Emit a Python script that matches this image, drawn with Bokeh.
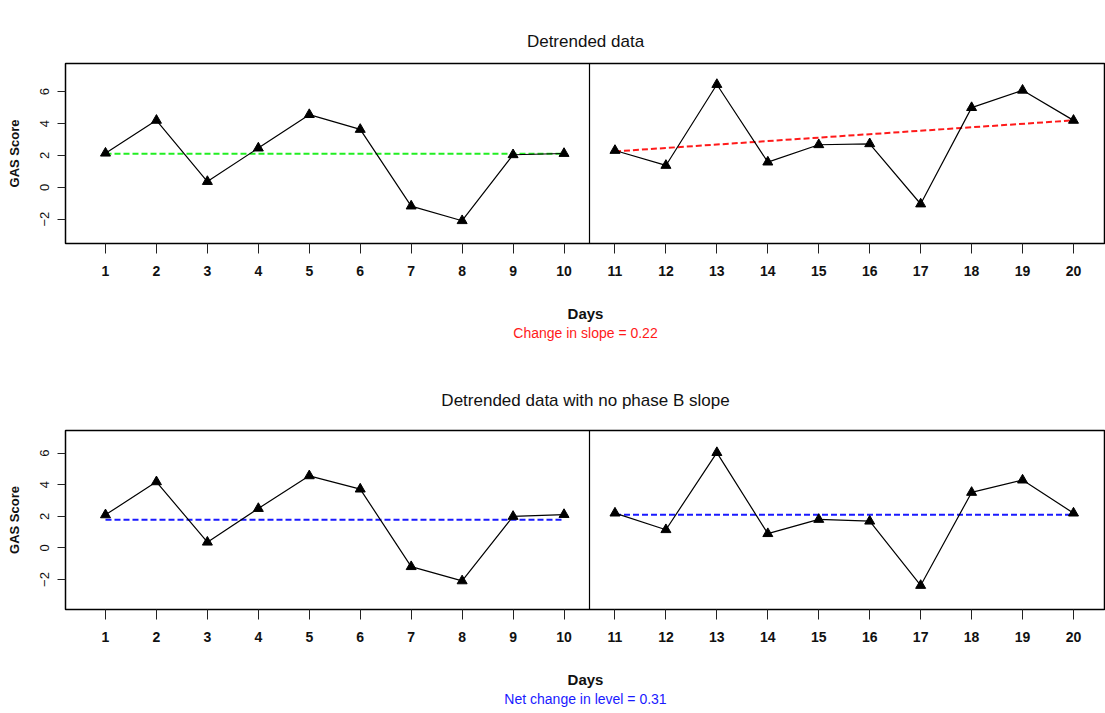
from bokeh.plotting import figure
from bokeh.models import Span, Title, Range1d, FixedTicker
from bokeh.layouts import column
from bokeh.embed import file_html
from bokeh.resources import INLINE

# ---------------- data ----------------
days_a = [1, 2, 3, 4, 5, 6, 7, 8, 9, 10]
days_b = [11, 12, 13, 14, 15, 16, 17, 18, 19, 20]

# Panel 1: detrended data
top_a = [2.14, 4.20, 0.36, 2.46, 4.56, 3.63, -1.18, -2.10, 2.04, 2.12]
top_b = [2.31, 1.37, 6.45, 1.58, 2.67, 2.73, -1.05, 5.00, 6.09, 4.20]
top_a_level = [2.10, 2.10]          # green dashed, phase A
top_b_trend = [2.25, 4.20]          # red dashed, phase B trend

# Panel 2: detrended data with no phase B slope
bot_a = [2.09, 4.18, 0.36, 2.49, 4.56, 3.72, -1.19, -2.09, 1.99, 2.11]
bot_b = [2.20, 1.15, 6.03, 0.90, 1.80, 1.69, -2.38, 3.51, 4.29, 2.20]
bot_a_level = [1.78, 1.78]          # blue dashed, phase A
bot_b_level = [2.09, 2.09]          # blue dashed, phase B

x_ticks = list(range(1, 21))
y_ticks = [-2, 0, 2, 4, 6]

NARROW = "'Liberation Sans Narrow', 'Arial Narrow', 'Liberation Sans'"
SANS = "'Liberation Sans', Arial, sans-serif"


def make_panel(title, ya, yb, ref_a, ref_b, color_a, color_b, note, note_color,
               height, top, bottom, yr, title_standoff, valign):
    p = figure(width=1105, height=height, output_backend="svg",
               toolbar_location=None,
               x_range=Range1d(0.215, 20.628), y_range=Range1d(*yr),
               min_border_left=65, min_border_right=0,
               min_border_top=top, min_border_bottom=bottom)
    p.title = Title(text=title, align="center", text_font=NARROW,
                    text_font_size="17px", text_font_style="normal",
                    text_color="#111111", standoff=title_standoff,
                    vertical_align=valign)
    p.xgrid.visible = False
    p.ygrid.visible = False
    p.outline_line_color = "black"
    p.outline_line_width = 1.5
    p.background_fill_color = "white"
    p.border_fill_color = "white"

    # x axis
    p.xaxis.ticker = FixedTicker(ticks=x_ticks)
    p.xaxis.minor_tick_line_color = None
    p.xaxis.major_tick_in = 0
    p.xaxis.major_tick_out = 10
    p.xaxis.major_tick_line_color = "#222222"
    p.xaxis.major_label_standoff = 12
    p.xaxis.major_label_text_font = NARROW
    p.xaxis.major_label_text_font_style = "bold"
    p.xaxis.major_label_text_font_size = "14px"
    p.xaxis.major_label_text_color = "#111111"
    p.xaxis.axis_label = "Days"
    p.xaxis.axis_label_text_font = NARROW
    p.xaxis.axis_label_text_font_style = "bold"
    p.xaxis.axis_label_text_font_size = "15px"
    p.xaxis.axis_label_text_color = "#111111"
    p.xaxis.axis_label_standoff = 26
    p.xaxis.axis_line_color = "black"

    # y axis
    p.yaxis.ticker = FixedTicker(ticks=y_ticks)
    p.yaxis.minor_tick_line_color = None
    p.yaxis.major_tick_in = 0
    p.yaxis.major_tick_out = 8
    p.yaxis.major_tick_line_color = "#222222"
    p.yaxis.major_label_orientation = "vertical"
    p.yaxis.major_label_standoff = 8
    p.yaxis.major_label_text_font = SANS
    p.yaxis.major_label_text_font_size = "13px"
    p.yaxis.major_label_text_color = "#111111"
    p.yaxis.axis_label = "GAS Score"
    p.yaxis.axis_label_text_font = SANS
    p.yaxis.axis_label_text_font_style = "bold"
    p.yaxis.axis_label_text_font_size = "13px"
    p.yaxis.axis_label_text_color = "#111111"
    p.yaxis.axis_label_standoff = 16

    # phase divider
    p.add_layout(Span(location=10.5, dimension="height",
                      line_color="black", line_width=1.2))

    # reference lines
    p.line([days_a[0], days_a[-1]], ref_a, line_color=color_a,
           line_width=2, line_dash="6 3")
    p.line([days_b[0], days_b[-1]], ref_b, line_color=color_b,
           line_width=2, line_dash="6 3")

    # data
    for xs, ys in ((days_a, ya), (days_b, yb)):
        p.line(xs, ys, line_color="black", line_width=1.2)
        p.scatter(xs, ys, marker="triangle", size=10,
                  fill_color="black", line_color="black")

    p.add_layout(Title(text=note, align="center", text_font=NARROW,
                       text_font_size="14px", text_font_style="normal",
                       text_color=note_color, standoff=-4), "below")
    return p


p1 = make_panel("Detrended data", top_a, top_b, top_a_level, top_b_trend,
                "#22ee22", "#ff1a1a", "Change in slope = 0.22", "#ff1a1a",
                height=361, top=63, bottom=118, yr=(-3.53, 7.77),
                title_standoff=22, valign="top")
p2 = make_panel("Detrended data with no phase B slope", bot_a, bot_b,
                bot_a_level, bot_b_level, "#1a1aff", "#1a1aff",
                "Net change in level = 0.31", "#1a1aff",
                height=350, top=69, bottom=102, yr=(-3.9, 7.43),
                title_standoff=40, valign="middle")

layout = column(p1, p2, spacing=0)
open("out.html", "w").write(file_html(layout, INLINE))
